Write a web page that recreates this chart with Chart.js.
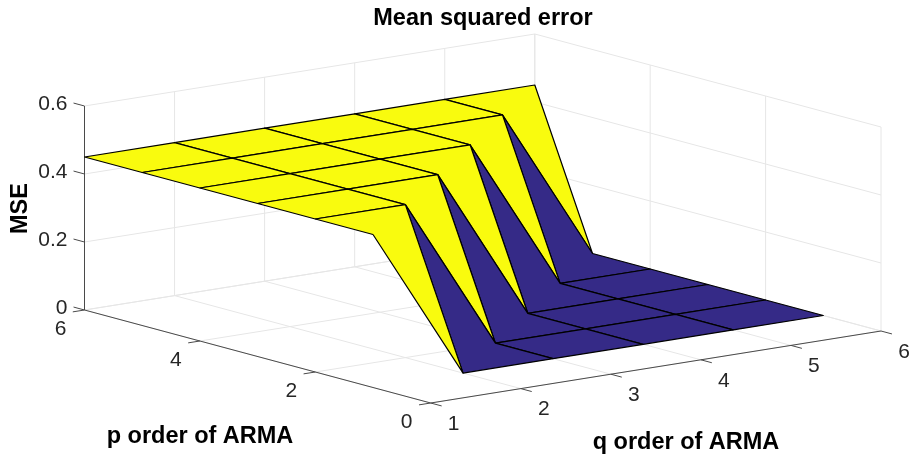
<!DOCTYPE html>
<html>
<head>
<meta charset="utf-8">
<title>Mean squared error</title>
<script src="https://cdn.jsdelivr.net/npm/chart.js@4"></script>
<style>
  html, body { margin: 0; padding: 0; background: #fff; }
  canvas { display: block; }
</style>
</head>
<body>
<canvas id="surfaceChart" width="909" height="454"></canvas>
<script>
// data
const qOrders = [1, 2, 3, 4, 5, 6];
const pOrders = [1, 2, 3, 4, 5, 6];
const mseP1 = [0.45, 0, 0, 0, 0, 0];
const mseP2 = [0.45, 0.45, 0, 0, 0, 0];
const mseP3 = [0.45, 0.45, 0.45, 0, 0, 0];
const mseP4 = [0.45, 0.45, 0.45, 0.45, 0, 0];
const mseP5 = [0.45, 0.45, 0.45, 0.45, 0.45, 0];
const mseP6 = [0.45, 0.45, 0.45, 0.45, 0.45, 0.45];
const mseRows = [mseP1, mseP2, mseP3, mseP4, mseP5, mseP6];

const qTicks = [1, 2, 3, 4, 5, 6];
const pTicks = [0, 2, 4, 6];
const zTicks = [0, 0.2, 0.4, 0.6];

const YELLOW = '#F9FB0E';
const BLUE = '#352A87';
const GRID = '#e6e6e6';
const AXIS = '#4a4a4a';
const FONT = '"Liberation Sans", Arial, sans-serif';

// fixed orthographic view, same as the matlab camera
function project(q, p, z) {
    return {
        x: 430.7 + 90.06 * (q - 1) - 57.7 * p,
        y: 403 - 14.4 * (q - 1) - 15.5 * p - 340 * z
    };
}

function lineSet(points, color) {
    return {
        data: points,
        borderColor: color,
        borderWidth: 1,
        pointRadius: 0,
        showLine: true,
        fill: false,
        tension: 0
    };
}

const datasets = [];

// back walls and floor
qTicks.forEach(q => {
    datasets.push(lineSet([project(q, 0, 0), project(q, 6, 0), project(q, 6, 0.6)], GRID));
});
pTicks.forEach(p => {
    datasets.push(lineSet([project(1, p, 0), project(6, p, 0), project(6, p, 0.6)], GRID));
});
zTicks.forEach(z => {
    datasets.push(lineSet([project(1, 6, z), project(6, 6, z), project(6, 0, z)], GRID));
});

// axis lines and tick marks
datasets.push(lineSet([project(1, 6, 0), project(1, 6, 0.6)], AXIS));
datasets.push(lineSet([project(1, 6, 0), project(1, 0, 0)], AXIS));
datasets.push(lineSet([project(1, 0, 0), project(6, 0, 0)], AXIS));
zTicks.forEach(z => datasets.push(lineSet([project(1, 6, z), project(1, 6.19, z)], AXIS)));
pTicks.forEach(p => datasets.push(lineSet([project(1, p, 0), project(0.87, p, 0)], AXIS)));
qTicks.forEach(q => datasets.push(lineSet([project(q, 0, 0), project(q, -0.19, 0)], AXIS)));

// surface faces, back to front. face colour comes from its low corner like surf()
for (let i = pOrders.length - 2; i >= 0; i--) {
    for (let j = qOrders.length - 2; j >= 0; j--) {
        const corners = [
            project(qOrders[j], pOrders[i], mseRows[i][j]),
            project(qOrders[j + 1], pOrders[i], mseRows[i][j + 1]),
            project(qOrders[j + 1], pOrders[i + 1], mseRows[i + 1][j + 1]),
            project(qOrders[j], pOrders[i + 1], mseRows[i + 1][j])
        ];
        corners.push(corners[0]);
        const color = mseRows[i][j] > 0.2 ? YELLOW : BLUE;
        datasets.push({
            data: corners,
            borderColor: '#000000',
            borderWidth: 1.2,
            borderJoinStyle: 'round',
            backgroundColor: color,
            pointRadius: 0,
            showLine: true,
            fill: 'shape',
            tension: 0
        });
    }
}

// chart.js paints the first dataset last
datasets.reverse();

const axisText = {
    id: 'axisText',
    afterDatasetsDraw(chart) {
        const { ctx, scales } = chart;
        const put = (text, x, y, font, align, color) => {
            ctx.font = font;
            ctx.textAlign = align;
            ctx.textBaseline = 'middle';
            ctx.fillStyle = color;
            ctx.fillText(text, x, y);
        };
        const tickFont = '21px ' + FONT;
        const boldFont = 'bold 23.5px ' + FONT;
        ctx.save();
        zTicks.forEach(z => {
            const pos = project(1, 6, z);
            put(String(z), scales.x.getPixelForValue(pos.x) - 17, scales.y.getPixelForValue(pos.y) - 1.5, tickFont, 'right', '#262626');
        });
        pTicks.forEach(p => {
            const pos = project(1, p, 0);
            put(String(p), scales.x.getPixelForValue(pos.x) - 24, scales.y.getPixelForValue(pos.y) + 19, tickFont, 'center', '#262626');
        });
        qTicks.forEach(q => {
            const pos = project(q, 0, 0);
            put(String(q), scales.x.getPixelForValue(pos.x) + 23, scales.y.getPixelForValue(pos.y) + 21, tickFont, 'center', '#262626');
        });
        put('Mean squared error', 483, 18.5, boldFont, 'center', '#000000');
        put('p order of ARMA', 200, 437, boldFont, 'center', '#000000');
        put('q order of ARMA', 686, 442.5, boldFont, 'center', '#000000');
        ctx.translate(21, 208.5);
        ctx.rotate(-Math.PI / 2);
        put('MSE', 0, 0, boldFont, 'center', '#000000');
        ctx.restore();
    }
};

new Chart(document.getElementById('surfaceChart'), {
    type: 'scatter',
    data: { datasets: datasets },
    plugins: [axisText],
    options: {
        responsive: false,
        animation: false,
        layout: { padding: 0 },
        clip: false,
        plugins: {
            legend: { display: false },
            tooltip: { enabled: false }
        },
        scales: {
            x: { type: 'linear', display: false, min: 0, max: 909 },
            y: { type: 'linear', display: false, min: 0, max: 454, reverse: true }
        }
    }
});
</script>
</body>
</html>
